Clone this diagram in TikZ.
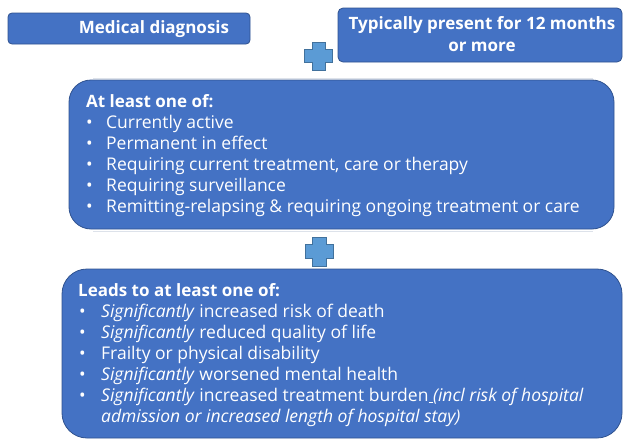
\documentclass[tikz,border=0pt]{standalone}
\usepackage{fontspec}
\setmainfont{Open Sans}
\definecolor{boxfill}{HTML}{4472C4}
\definecolor{boxedge}{HTML}{2F528F}
\definecolor{plusfill}{HTML}{5B9BD5}
\definecolor{plusedge}{HTML}{41719C}
\definecolor{faint}{HTML}{DDE2EA}
\begin{document}
\begin{tikzpicture}[x=1pt,y=-1pt,
  box/.style={draw=boxedge, fill=boxfill, line width=0.8pt},
  plus/.style={draw=plusedge, fill=plusfill, line width=0.6pt},
  txt/.style={text=white, inner sep=0pt, font=\fontsize{17.5}{21}\selectfont},
  head/.style={font=\fontsize{17}{21}\selectfont\bfseries},
  list/.style={txt, align=left, anchor=base west}]
  \useasboundingbox (0,0) rectangle (624,439);
  \newcommand{\itm}{\makebox[20pt][l]{\textbullet}}
  \newcommand{\itmb}{\hspace*{1pt}\makebox[22pt][l]{\textbullet}}
  \newcommand{\hd}[1]{{\fontsize{17}{21}\selectfont\bfseries #1}}

  % faint separators around the middle panel
  \draw[faint, line width=0.8pt] (93,78) -- (593,78);
  \draw[faint, line width=0.8pt] (93,231) -- (593,231);

  % top boxes
  \draw[box, rounded corners=4pt] (8,13) rectangle (250,44);
  \node[txt, head] (diag) at (154,29) {Medical diagnosis};

  \draw[box, rounded corners=5pt] (338,8) rectangle (622,62);
  \node[txt, head, align=center, font=\fontsize{17}{22}\selectfont\bfseries] (dur) at (482,34)
    {Typically present for 12 months\\or more};

  % plus signs
  \draw[plus] (312,42) -- (325,42) -- (325,49) -- (332,49) -- (332,62) -- (325,62)
    -- (325,70) -- (312,70) -- (312,62) -- (304,62) -- (304,49) -- (312,49) -- cycle;
  \draw[plus] (312,237) -- (326,237) -- (326,244) -- (333,244) -- (333,258) -- (326,258)
    -- (326,266) -- (312,266) -- (312,258) -- (305,258) -- (305,244) -- (312,244) -- cycle;

  % middle panel (text anchored at the baseline of its last line)
  \draw[box, rounded corners=22pt] (69,80) rectangle (614,229);
  \node[list] (crit) at (86,212) {%
    \hd{At least one of:}\\
    \itm Currently active\\
    \itm Permanent in effect\\
    \itm Requiring current treatment, care or therapy\\
    \itm Requiring surveillance\\
    \itm Remitting-relapsing \& requiring ongoing treatment or care};

  % bottom panel
  \draw[box, rounded corners=25pt] (62,269) rectangle (622,438);
  \node[list] (impact) at (78,422) {%
    \hd{Leads to at least one of:}\\
    \itmb \textit{Significantly} increased risk of death\\
    \itmb \textit{Significantly} reduced quality of life\\
    \itmb Frailty or physical disability\\
    \itmb \textit{Significantly} worsened mental health\\
    \itmb \textit{Significantly} increased treatment burden\underline{\ }\textit{(incl risk of hospital}\\
    \hspace*{23pt}\textit{admission or increased length of hospital stay)}};
\end{tikzpicture}
\end{document}
